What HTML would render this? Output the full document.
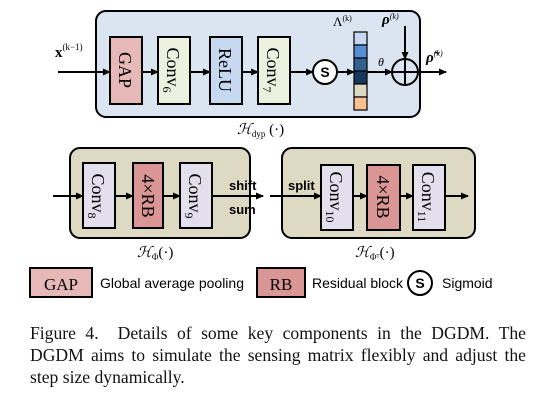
<!DOCTYPE html>
<html><head><style>
body{margin:0;width:552px;height:401px;background:#fff;overflow:hidden;position:relative}
.cap{position:absolute;left:30px;width:496px;font:17.6px/22px "Liberation Serif",serif;color:#111;white-space:nowrap}
.j{text-align:justify;text-align-last:justify}
</style></head><body>
<svg width="552" height="320" style="position:absolute;left:0;top:0" font-family="Liberation Serif,serif">
<defs><marker id="a" markerWidth="8" markerHeight="8" refX="7" refY="4" orient="auto" markerUnits="userSpaceOnUse"><path d="M0,0.5 L8,4 L0,7.5z" fill="#000"/></marker></defs>
<g stroke="#000" stroke-width="2">
<rect x="96" y="11" width="324" height="106" rx="10" fill="#dbe5f1"/>
<rect x="110" y="37" width="32" height="67" fill="#e6b8b7"/>
<rect x="158" y="37" width="32" height="67" fill="#ebf1de"/>
<rect x="210" y="37" width="32" height="67" fill="#c6d9f1"/>
<rect x="258" y="37" width="32" height="67" fill="#ebf1de"/>
<circle cx="325" cy="72" r="12" fill="#fff"/>
<circle cx="405" cy="72" r="13" fill="none"/>
<line x1="392" y1="72" x2="418" y2="72"/><line x1="405" y1="59" x2="405" y2="85"/>
<g stroke-width="1.2">
<rect x="354" y="32" width="13" height="13" fill="#c6d9f1"/>
<rect x="354" y="45" width="13" height="13" fill="#558ed5"/>
<rect x="354" y="58" width="13" height="13" fill="#376092"/>
<rect x="354" y="71" width="13" height="13" fill="#17375e"/>
<rect x="354" y="84" width="13" height="13" fill="#ddd9c3"/>
<rect x="354" y="97" width="13" height="13" fill="#fac090"/>
</g>
<line x1="58" y1="72" x2="110" y2="72" marker-end="url(#a)"/>
<line x1="142" y1="72" x2="158" y2="72" marker-end="url(#a)"/>
<line x1="190" y1="72" x2="210" y2="72" marker-end="url(#a)"/>
<line x1="242" y1="72" x2="258" y2="72" marker-end="url(#a)"/>
<line x1="290" y1="72" x2="313" y2="72" marker-end="url(#a)"/>
<line x1="337" y1="72" x2="354" y2="72" marker-end="url(#a)"/>
<line x1="367" y1="72" x2="392" y2="72" marker-end="url(#a)"/>
<line x1="405" y1="26" x2="405" y2="59" marker-end="url(#a)"/>
<line x1="418" y1="72" x2="446" y2="72" marker-end="url(#a)"/>

<rect x="70" y="148" width="180" height="90" rx="10" fill="#ddd9c3"/>
<rect x="282" y="148" width="193" height="90" rx="10" fill="#ddd9c3"/>
<rect x="83" y="163" width="32" height="65" fill="#e4dfec"/>
<rect x="133" y="163" width="30" height="65" fill="#d99694"/>
<rect x="180" y="163" width="32" height="65" fill="#e4dfec"/>
<rect x="321" y="165" width="32" height="65" fill="#e4dfec"/>
<rect x="367" y="165" width="33" height="65" fill="#d99694"/>
<rect x="413" y="165" width="32" height="65" fill="#e4dfec"/>
<line x1="53" y1="196" x2="83" y2="196" marker-end="url(#a)"/>
<line x1="115" y1="196" x2="133" y2="196" marker-end="url(#a)"/>
<line x1="163" y1="196" x2="180" y2="196" marker-end="url(#a)"/>
<line x1="212" y1="196" x2="263" y2="196" marker-end="url(#a)"/>
<line x1="270" y1="196" x2="321" y2="196" marker-end="url(#a)"/>
<line x1="353" y1="196" x2="367" y2="196" marker-end="url(#a)"/>
<line x1="400" y1="196" x2="413" y2="196" marker-end="url(#a)"/>
<line x1="445" y1="196" x2="468" y2="196" marker-end="url(#a)"/>

<rect x="30" y="268" width="62" height="29" fill="#e6b8b7"/>
<rect x="257" y="268" width="48" height="29" fill="#d99694"/>
<circle cx="420" cy="283" r="12" fill="#fff"/>
</g>
<g font-size="18" fill="#000">
<text transform="translate(119,70) rotate(90)" text-anchor="middle">GAP</text>
<text transform="translate(167,70) rotate(90)" text-anchor="middle">Conv<tspan font-size="12" dy="4">6</tspan></text>
<text transform="translate(219,70) rotate(90)" text-anchor="middle">ReLU</text>
<text transform="translate(267,70) rotate(90)" text-anchor="middle">Conv<tspan font-size="12" dy="4">7</tspan></text>
<text transform="translate(92,196) rotate(90)" text-anchor="middle">Conv<tspan font-size="12" dy="4">8</tspan></text>
<text transform="translate(142,196) rotate(90)" text-anchor="middle">4×RB</text>
<text transform="translate(189,196) rotate(90)" text-anchor="middle">Conv<tspan font-size="12" dy="4">9</tspan></text>
<text transform="translate(330,197) rotate(90)" text-anchor="middle">Conv<tspan font-size="12" dy="4">10</tspan></text>
<text transform="translate(377,197) rotate(90)" text-anchor="middle">4×RB</text>
<text transform="translate(422,197) rotate(90)" text-anchor="middle">Conv<tspan font-size="12" dy="4">11</tspan></text>
<text x="61" y="290" text-anchor="middle" font-size="17">GAP</text>
<text x="281" y="290" text-anchor="middle" font-size="17">RB</text>
</g>
<g font-family="Liberation Sans,sans-serif" font-size="14" fill="#000">
<text x="229" y="190" font-weight="bold" font-size="13">shift</text>
<text x="229" y="214" font-weight="bold" font-size="13">sum</text>
<text x="288" y="190" font-weight="bold" font-size="13">split</text>
<text x="420" y="288" text-anchor="middle" font-weight="bold">S</text>
<text x="325" y="77" text-anchor="middle" font-weight="bold">S</text>
<text x="100" y="288">Global average pooling</text>
<text x="312" y="288">Residual block</text>
<text x="442" y="288">Sigmoid</text>
</g>
<g fill="#000" font-size="15">
<text x="55" y="57" font-weight="bold">x<tspan font-size="9" font-weight="normal" dy="-7">(k−1)</tspan></text>
<text x="333" y="26" font-size="13">Λ<tspan font-size="8" dy="-5">(k)</tspan></text>
<text x="382" y="24" font-weight="bold" font-style="italic">ρ<tspan font-size="8" font-weight="normal" dy="-5">(k)</tspan></text>
<text x="378" y="66" font-style="italic" font-size="12">θ</text>
<text x="426" y="62" font-weight="bold" font-style="italic">ρ̃<tspan font-size="8" font-weight="normal" dy="-6">(k)</tspan></text>
<text x="237" y="134" font-style="italic" font-size="15">ℋ<tspan font-size="9" font-style="normal" dy="3">dyp</tspan><tspan dy="-3" font-style="normal"> (·)</tspan></text>
<text x="137" y="257" font-style="italic" font-size="15">ℋ<tspan font-size="9" font-style="normal" dy="3">Φ</tspan><tspan dy="-3" font-style="normal">(·)</tspan></text>
<text x="355" y="257" font-style="italic" font-size="15">ℋ<tspan font-size="9" font-style="normal" dy="3">Φᵀ</tspan><tspan dy="-3" font-style="normal">(·)</tspan></text>
</g>
</svg>
<div class="cap j" style="top:322px">Figure 4.&nbsp; Details of some key components in the DGDM. The</div>
<div class="cap j" style="top:344px">DGDM aims to simulate the sensing matrix flexibly and adjust the</div>
<div class="cap" style="top:366px">step size dynamically.</div>
</body></html>
